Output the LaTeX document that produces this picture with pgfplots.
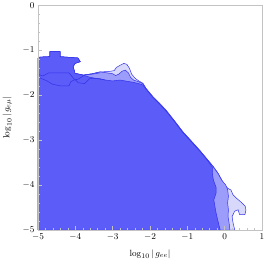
\documentclass[border=0pt]{standalone}
\usepackage{pgfplots}
\pgfplotsset{compat=1.18}
\definecolor{cdark}{RGB}{92,92,248}
\definecolor{cmed}{RGB}{156,156,250}
\definecolor{clight}{RGB}{216,216,250}
\definecolor{cline}{RGB}{50,50,235}
\definecolor{cframe}{RGB}{195,195,195}
\begin{document}
\begin{tikzpicture}
\begin{axis}[
  scale only axis, width=224bp, height=224.5bp,
  xmin=-5, xmax=1, ymin=-5, ymax=0,
  axis on top,
  axis line style={cframe, line width=0.8pt},
  tick style={cframe, line width=0.5pt},
  major tick length=4bp, minor tick length=2.2bp,
  tick align=inside,
  xtick={-5,...,1}, ytick={-5,...,0},
  minor x tick num=4, minor y tick num=4,
  xtick pos=left, ytick pos=left,
  ticklabel style={font=\fontsize{9.5}{11}\selectfont, text=black},
  xlabel={$\log_{10}|\,g_{ee}|$}, ylabel={$\log_{10}|\,g_{e\mu}|$},
  label style={font=\fontsize{9.5}{11}\selectfont},
  xlabel style={at={(axis description cs:0.5,-0.107)}, anchor=center},
  ylabel style={at={(axis description cs:-0.138,0.5)}, anchor=center},
]
% outer (light) region
\addplot[fill=clight, draw=cline, line width=0.5pt] coordinates {
(-5,-5) (-5,-1.17) (-4.95,-1.15) (-4.68,-1.14) (-4.68,-1.03) (-4.41,-1.03)
(-4.41,-1.14) (-3.93,-1.17) (-3.87,-1.25) (-4.01,-1.29) (-4.06,-1.36)
(-4.01,-1.51) (-3.79,-1.55) (-3.55,-1.52) (-3.34,-1.48) (-3.1,-1.47)
(-2.96,-1.45) (-2.90,-1.38) (-2.80,-1.33) (-2.70,-1.29) (-2.62,-1.31)
(-2.55,-1.40) (-2.49,-1.53) (-2.40,-1.62) (-2.30,-1.68) (-2.19,-1.73)
(-2.11,-1.84) (-1.92,-2.03) (-1.75,-2.17) (-1.57,-2.33) (-1.35,-2.56)
(-1.12,-2.81) (-0.90,-3.01) (-0.66,-3.23) (-0.45,-3.44) (-0.31,-3.58)
(-0.18,-3.73) (-0.08,-3.88) (0.00,-4.01) (0.10,-4.08) (0.17,-4.11)
(0.22,-4.21) (0.30,-4.28) (0.44,-4.38) (0.55,-4.47) (0.57,-4.56)
(0.54,-4.66) (0.40,-4.66) (0.36,-4.55) (0.27,-4.58) (0.20,-4.70)
(0.22,-4.82) (0.27,-5)
} -- cycle;
% middle region
\addplot[fill=cmed, draw=cline, line width=0.5pt] coordinates {
(-5,-5) (-5,-1.17) (-4.95,-1.15) (-4.68,-1.14) (-4.68,-1.03) (-4.41,-1.03)
(-4.41,-1.14) (-3.93,-1.17) (-3.87,-1.25) (-4.01,-1.29) (-4.06,-1.36)
(-4.01,-1.51) (-3.79,-1.55) (-3.55,-1.52) (-3.34,-1.48)
(-3.15,-1.50) (-3.0,-1.52) (-2.92,-1.56) (-2.84,-1.53) (-2.74,-1.46)
(-2.66,-1.44) (-2.58,-1.50) (-2.52,-1.60) (-2.44,-1.66) (-2.30,-1.70)
(-2.19,-1.74)
(-2.11,-1.85) (-1.92,-2.04) (-1.75,-2.18) (-1.57,-2.34) (-1.35,-2.57)
(-1.12,-2.82) (-0.90,-3.02) (-0.66,-3.24) (-0.45,-3.45) (-0.31,-3.59)
(-0.18,-3.74) (-0.08,-3.89) (0.03,-4.00) (0.08,-4.10) (0.10,-4.25)
(0.08,-4.40) (0.10,-4.55) (0.09,-4.70) (0.12,-4.85) (0.14,-5)
} -- cycle;
% inner (dark) region
\addplot[fill=cdark, draw=cline, line width=0.5pt] coordinates {
(-5,-5) (-5,-1.17) (-4.95,-1.15) (-4.68,-1.14) (-4.68,-1.03) (-4.41,-1.03)
(-4.41,-1.14) (-3.93,-1.17) (-3.87,-1.25) (-4.01,-1.29) (-4.06,-1.36)
(-4.01,-1.51) (-3.79,-1.55)
(-3.6,-1.60) (-3.4,-1.63) (-3.2,-1.66) (-3.0,-1.68) (-2.8,-1.66)
(-2.6,-1.69) (-2.45,-1.71) (-2.3,-1.74) (-2.19,-1.77)
(-2.11,-1.86) (-1.92,-2.05) (-1.75,-2.19) (-1.57,-2.35) (-1.35,-2.58)
(-1.12,-2.83) (-0.90,-3.03) (-0.66,-3.25) (-0.45,-3.46) (-0.33,-3.60)
(-0.33,-3.75) (-0.30,-3.89) (-0.23,-4.05) (-0.23,-4.18) (-0.29,-4.33)
(-0.26,-4.48) (-0.23,-4.62) (-0.18,-4.80) (-0.12,-5)
} -- cycle;
% interior contour lines (top left)
\addplot[draw=cline, line width=0.5pt] coordinates {
(-5,-1.53) (-4.87,-1.57) (-4.71,-1.50) (-4.17,-1.50) (-4.06,-1.61)
(-3.92,-1.72) (-3.75,-1.74) (-3.62,-1.63) (-3.50,-1.62) (-3.34,-1.63)
(-3.2,-1.66)
};
\addplot[draw=cline, line width=0.5pt] coordinates {
(-5,-1.59) (-4.76,-1.68) (-4.62,-1.75) (-4.41,-1.79) (-4.17,-1.79)
(-4.12,-1.70) (-4.04,-1.66) (-3.92,-1.64) (-3.75,-1.55) (-3.55,-1.53)
(-3.34,-1.50)
};
\end{axis}
\pgfresetboundingbox
\path[use as bounding box] ([shift={(-38bp,-36bp)}]current axis.south west) rectangle ([shift={(4bp,5.5bp)}]current axis.north east);
\end{tikzpicture}
\end{document}
